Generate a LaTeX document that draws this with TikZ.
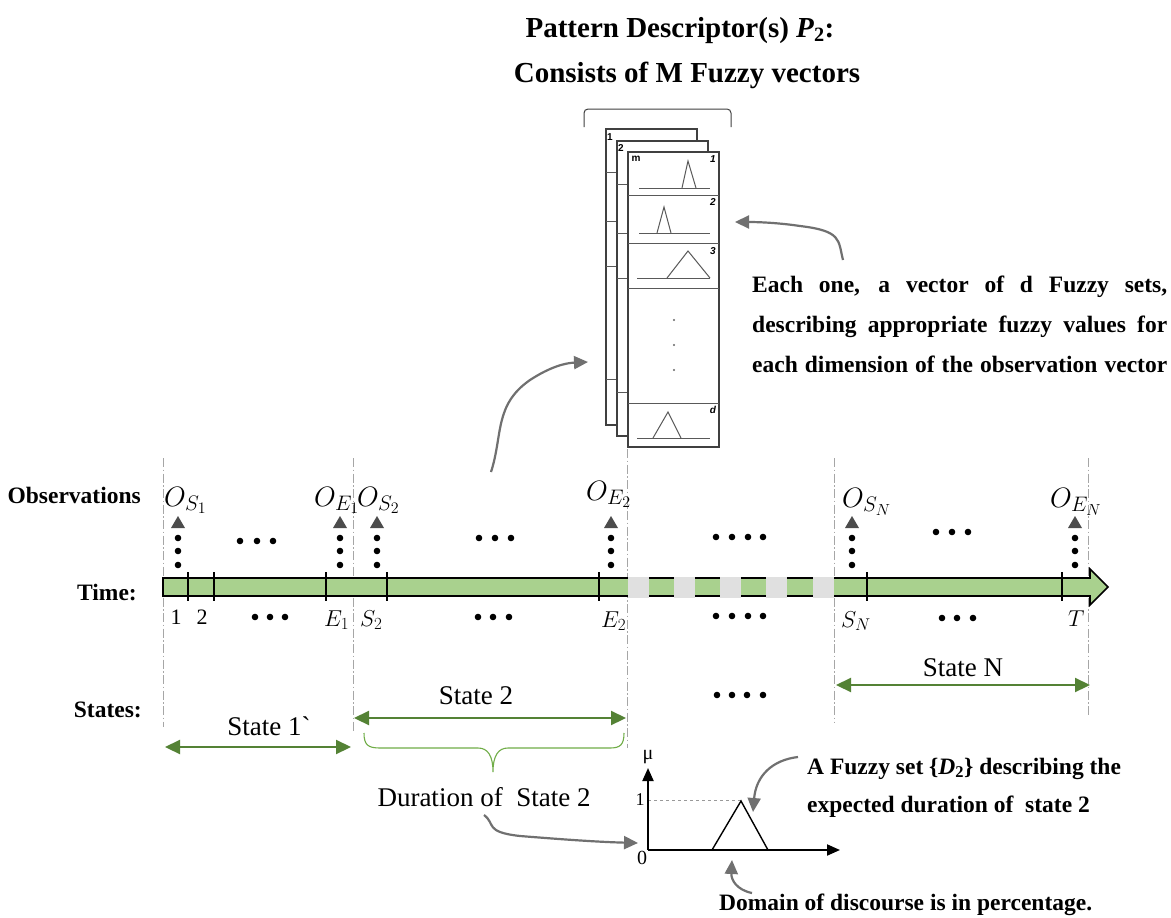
\RequirePackage{fix-cm}
\documentclass[tikz,border=0pt]{standalone}
\usepackage{fontspec}
\setmainfont{Liberation Serif}
\newfontfamily\arialf{Liberation Sans}
\usetikzlibrary{arrows.meta}
\DeclareMathSizes{28}{28}{21}{16}
\DeclareMathSizes{23}{23}{17}{13}
\definecolor{barg}{HTML}{A9D18E}
\definecolor{stg}{HTML}{548235}
\definecolor{brg}{HTML}{70AD47}
\definecolor{arrg}{HTML}{707070}
\begin{document}
\begin{tikzpicture}[x=1pt,y=-1pt,
  vl/.style={draw=black!35,line width=1pt,dash pattern=on 9pt off 2.5pt on 1.5pt off 2.5pt},
  tk/.style={line width=2.6pt,draw=black},
  sarr/.style={draw=stg,line width=2.2pt,{Triangle[length=15pt,width=14pt]}-{Triangle[length=15pt,width=14pt]}},
  garr/.style={draw=arrg,line width=2.2pt,-{Triangle[length=14pt,width=13pt]}},
  bl/.style={font=\fontsize{23.5}{28}\selectfont\bfseries,inner sep=0pt},
  rg/.style={font=\fontsize{27}{32}\selectfont,inner sep=0pt},
  ml/.style={font=\fontsize{28}{32}\selectfont,inner sep=0pt},
  tl/.style={font=\fontsize{23}{27}\selectfont,inner sep=0pt},
  bx/.style={draw=black!75,line width=1.1pt,fill=white},
  sl/.style={draw=black!65,line width=1pt},
  bn/.style={font=\arialf\bfseries\fontsize{10}{12}\selectfont,inner sep=0pt},
  bi/.style={font=\arialf\bfseries\itshape\fontsize{10}{12}\selectfont,inner sep=0pt},
]
\useasboundingbox (0,0) rectangle (1171,918);
\fill[white] (0,0) rectangle (1171,918);

% ---------- title ----------
\node[font=\fontsize{29}{33}\selectfont\bfseries,inner sep=0pt,anchor=base] (t1) at (680,37) {Pattern Descriptor(s) \textit{P}\textsubscript{2}:};
\node[font=\fontsize{29}{33}\selectfont\bfseries,inner sep=0pt,anchor=base] (t2) at (687,82) {Consists of M Fuzzy vectors};

% ---------- bracket ----------
\draw[black!75,line width=1pt,rounded corners=4pt] (584,127) -- (584,109) -- (731,109) -- (731,127);

% ---------- stack of fuzzy vectors ----------
\draw[bx] (606,129) rectangle (697,425);
\foreach \y in {172,221,266,379} \draw[sl] (606,\y) -- (617,\y);
\node[bn] (b1) at (610,137) {1};
\draw[bx] (617,141) rectangle (708,436);
\foreach \y in {184,233,278,392} \draw[sl] (617,\y) -- (628,\y);
\node[bn] (b2) at (621,148) {2};
\draw[bx] (628,152) rectangle (719,447);
\foreach \y in {195,243,288,403} \draw[sl] (628,\y) -- (719,\y);
\node[bn] (bm) at (636,159) {m};
\node[bi] (r1) at (713,159) {1};
\node[bi] (r2) at (713,202) {2};
\node[bi] (r3) at (713,251) {3};
\node[bi] (rd) at (713,410) {d};
% small fuzzy sets
\draw[sl] (639,188) -- (710,188);
\draw[sl] (682,188) -- (688,161) -- (696,188);
\draw[sl] (639,233) -- (710,233);
\draw[sl] (657,233) -- (664,207) -- (671,233);
\draw[sl] (637,278) -- (710,278);
\draw[sl] (667,278) -- (688,251) -- (710,278);
\draw[sl] (637,438) -- (710,438);
\draw[sl] (653,438) -- (668,412) -- (681,438);
\foreach \y in {320,345,370} \fill[black!60] (674,\y) circle (1.2);

% ---------- right annotation ----------
\node[bl,anchor=base west] (e1) at (752,292) {\makebox[415pt][s]{Each one, a vector of d Fuzzy sets,}};
\node[bl,anchor=base west] (e2) at (752,332) {\makebox[415pt][s]{describing appropriate fuzzy values for}};
\node[bl,anchor=base west] (e3) at (752,372) {\makebox[415pt][s]{each dimension of the observation vector}};
\coordinate (a2s) at (843,260);
\coordinate (a2e) at (735,222);
\draw[garr] (a2s) .. controls (838,240) and (842,231) .. (800,226) .. controls (780,223) and (760,222) .. (a2e);

% ---------- arrow timeline -> stack ----------
\coordinate (a1s) at (491,472);
\coordinate (a1e) at (588,362);
\draw[garr] (a1s) .. controls (503,435) and (494,405) .. (530,380) .. controls (550,367) and (565,363) .. (a1e);

% ---------- vertical dash-dot lines ----------
\draw[vl] (163,458) -- (163,727);
\draw[vl] (353,458) -- (353,732);
\draw[vl] (627,449) -- (627,748);
\draw[vl] (834,458) -- (834,722);
\draw[vl] (1088,458) -- (1088,717);

% ---------- row labels ----------
\node[bl,anchor=base east] (lobs) at (141,503) {Observations};
\node[bl,anchor=base east] (ltime) at (137,600) {Time:};
\node[bl,anchor=base east] (lst) at (142,717) {States:};

% ---------- timeline bar ----------
\draw[fill=barg,line width=1.6pt,line join=miter] (163,578) -- (1090,578) -- (1090,569) -- (1108,587) -- (1090,605) -- (1090,596) -- (163,596) -- cycle;
\foreach \x in {628,674,720,766,813} \fill[black!12] (\x,576.5) rectangle (\x+21,597.5);
\foreach \x in {188,214,326,387,599,867,1062} \draw[tk] (\x,572) -- (\x,601);

% ---------- observations ----------
\foreach \x in {178,340,377,611,852,1075} {
  \fill[black!70] (\x,516) -- (\x+7,528) -- (\x-7,528) -- cycle;
  \foreach \y in {538,551,565} \fill (\x,\y) circle (3.3);
}
\node[ml,anchor=base west] (os1) at (164,506) {$O_{S_1}$};
\node[ml,anchor=base west] (oe1) at (314,506) {$O_{E_1}$};
\node[ml,anchor=base west] (os2) at (357,506) {$O_{S_2}$};
\node[ml,anchor=base west] (oe2) at (586,500) {$O_{E_2}$};
\node[ml,anchor=base west] (osn) at (842,507) {$O_{S_N}$};
\node[ml,anchor=base west] (oen) at (1050,507) {$O_{E_N}$};

% dots rows
\foreach \x in {240,257,273} \fill (\x,541) circle (3.3);
\foreach \x in {479,495,511} \fill (\x,538) circle (3.3);
\foreach \x in {716,732,748,763} \fill (\x,537) circle (3.3);
\foreach \x in {936,952,968} \fill (\x,532) circle (3.3);
\foreach \x in {255,270,285} \fill (\x,617) circle (3.3);
\foreach \x in {478,493,509} \fill (\x,617) circle (3.3);
\foreach \x in {716,732,748,763} \fill (\x,616) circle (3.3);
\foreach \x in {942,957,973} \fill (\x,618) circle (3.3);
\foreach \x in {717,732,747,763} \fill (\x,695) circle (3.3);

% ---------- time labels ----------
\node[font=\fontsize{22}{26}\selectfont,inner sep=0pt,anchor=base] (n1) at (176,624) {1};
\node[font=\fontsize{22}{26}\selectfont,inner sep=0pt,anchor=base] (n2) at (202,624) {2};
\node[tl,anchor=base west] (te1) at (324,626) {$E_1$};
\node[tl,anchor=base west] (ts2) at (360,626) {$S_2$};
\node[tl,anchor=base west] (te2) at (601,627) {$E_2$};
\node[tl,anchor=base west] (tsn) at (841,627) {$S_N$};
\node[tl,anchor=base west] (tt) at (1068,626) {$T$};

% ---------- states ----------
\coordinate (s1a) at (165,747);
\coordinate (s1b) at (351,747);
\draw[sarr] (s1a) -- (s1b);
\node[rg] (st1) at (269,726) {State 1\textasciigrave};
\coordinate (s2a) at (354,718);
\coordinate (s2b) at (626,718);
\draw[sarr] (s2a) -- (s2b);
\node[rg] (st2) at (476,696) {State 2};
\coordinate (sna) at (836,685);
\coordinate (snb) at (1090,685);
\draw[sarr] (sna) -- (snb);
\node[rg] (stn) at (963,668) {State N};

% brace
\draw[brg,line width=1.1pt] (364,733) .. controls (364,745) and (368,748) .. (380,748) -- (478,748)
  .. controls (488,748) and (493,756) .. (493,772) .. controls (493,756) and (498,748) .. (508,748)
  -- (610,748) .. controls (620,748) and (624,745) .. (624,733);
\node[rg,anchor=base] (dur) at (484,806) {Duration of\ \ State 2};

% ---------- fuzzy set D2 ----------
\coordinate (org) at (648,850);
\draw[black!40,dashed,line width=0.8pt] (648,800) -- (741,800);
\draw[black,line width=2pt,-{Triangle[length=13pt,width=11pt]}] (org) -- (648,768);
\draw[black,line width=2pt,-{Triangle[length=13pt,width=11pt]}] (org) -- (840,850);
\draw[black,line width=1.4pt] (712,850) -- (741,801) -- (768,850);
\node[font=\fontsize{20}{24}\selectfont,inner sep=0pt] (mu) at (648,757) {μ};
\node[font=\fontsize{18}{22}\selectfont,inner sep=0pt] (one) at (640,800) {1};
\node[font=\fontsize{20}{24}\selectfont,inner sep=0pt] (zero) at (642,858) {0};

\coordinate (a3s) at (484,815);
\coordinate (a3e) at (638,843);
\draw[garr] (a3s) .. controls (496,824) and (484,832) .. (520,836) .. controls (570,840) and (600,842) .. (a3e);

\node[bl,anchor=base west] (f1) at (807,774) {A Fuzzy set \{\textit{D}\textsubscript{2}\} describing the};
\node[bl,anchor=base west] (f2) at (807,812) {expected duration of\ \ state 2};
\coordinate (a4s) at (798,757);
\coordinate (a4e) at (753,812);
\draw[garr] (a4s) .. controls (772,760) and (756,776) .. (a4e);

\node[bl,anchor=base west] (f3) at (719,910) {Domain of discourse is in percentage.};
\coordinate (a5s) at (752,893);
\coordinate (a5e) at (732,860);
\draw[garr] (a5s) .. controls (737,890) and (731,880) .. (a5e);
\end{tikzpicture}
\end{document}
